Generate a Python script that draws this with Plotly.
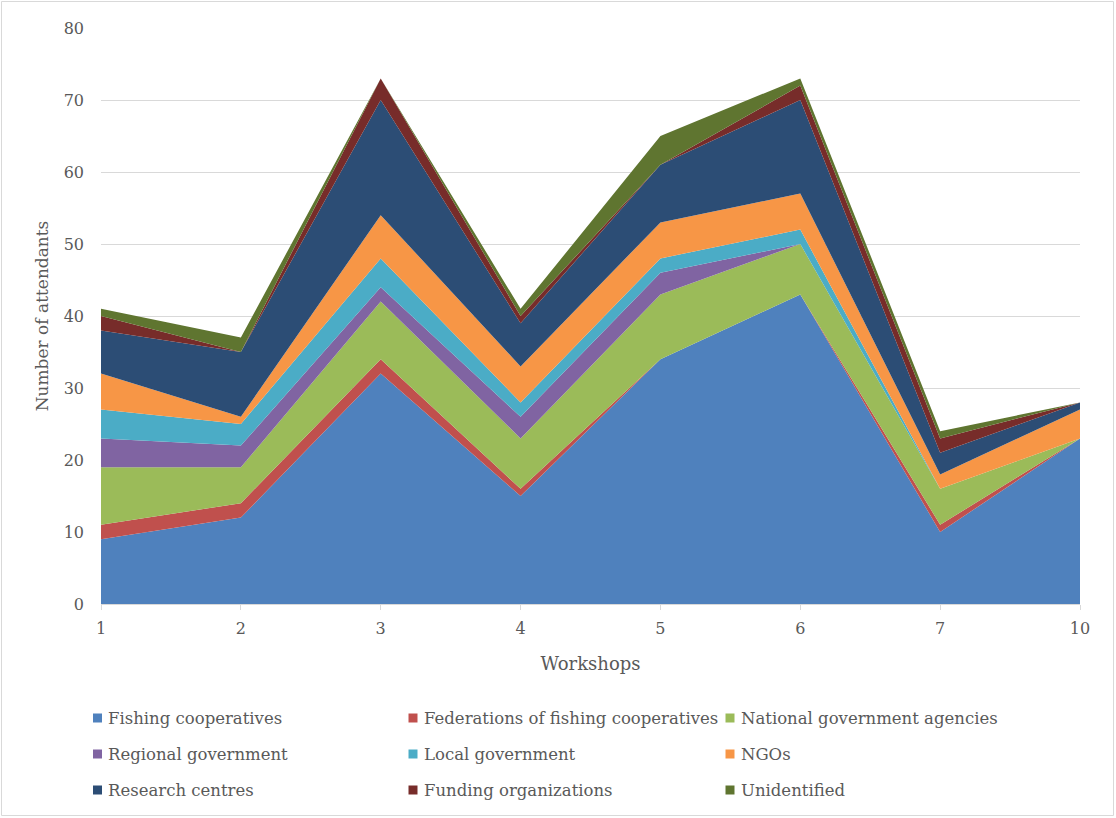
import plotly.graph_objects as go

workshops = ["1", "2", "3", "4", "5", "6", "7", "10"]
series_names = [
    "Fishing cooperatives", "Federations of fishing cooperatives", "National government agencies",
    "Regional government", "Local government", "NGOs",
    "Research centres", "Funding organizations", "Unidentified",
]
fishing_coops = [9, 12, 32, 15, 34, 43, 10, 23]
federations = [2, 2, 2, 1, 0, 0, 1, 0]
national_gov = [8, 5, 8, 7, 9, 7, 5, 0]
regional_gov = [4, 3, 2, 3, 3, 0, 0, 0]
local_gov = [4, 3, 4, 2, 2, 2, 0, 0]
ngos = [5, 1, 6, 5, 5, 5, 2, 4]
research = [6, 9, 16, 6, 8, 13, 3, 1]
funding = [2, 0, 3, 1, 0, 2, 2, 0]
unidentified = [1, 2, 0, 1, 4, 1, 1, 0]

series_values = [fishing_coops, federations, national_gov, regional_gov, local_gov,
                 ngos, research, funding, unidentified]
colors = ["#4F81BD", "#C0504D", "#9BBB59", "#8064A2", "#4BACC6", "#F79646",
          "#2C4D75", "#772C2A", "#5F7530"]

FONT = "DejaVu Serif"
TXT = "#595959"

fig = go.Figure()
for name, vals, col in zip(series_names, series_values, colors):
    fig.add_trace(go.Scatter(
        x=workshops, y=vals, name=name, stackgroup="one", mode="none",
        fillcolor=col, showlegend=False, hoverinfo="x+y+name",
    ))

W, H = 1116, 818
L, R, T, B = 101, 36, 28, 214
pw, ph = W - L - R, H - T - B


def px_x(p):
    return (p - L) / pw


def px_y(p):
    return (T + ph - p) / ph


# manual legend (3 columns x 3 rows), real text
col_marker = [97.5, 413, 730]
col_text = [107, 423, 740]
row_y = [718, 754, 790]
shapes = []
annotations = []
for i, (name, col) in enumerate(zip(series_names, colors)):
    r, c = divmod(i, 3)
    cx, cy = col_marker[c], row_y[r]
    shapes.append(dict(
        type="rect", xref="paper", yref="paper",
        x0=px_x(cx - 4.5), x1=px_x(cx + 4.5), y0=px_y(cy + 4.5), y1=px_y(cy - 4.5),
        line=dict(width=0), fillcolor=col,
    ))
    annotations.append(dict(
        text=name, xref="paper", yref="paper", x=px_x(col_text[c]), y=px_y(cy),
        xanchor="left", yanchor="middle", showarrow=False,
        font=dict(family=FONT, size=16.5, color=TXT), borderpad=0,
    ))

# outer chart border
shapes.append(dict(
    type="rect", xref="paper", yref="paper",
    x0=px_x(1.5), x1=px_x(1113.5), y0=px_y(815.5), y1=px_y(1.5),
    line=dict(color="#D9D9D9", width=1), fillcolor="rgba(0,0,0,0)", layer="above",
))

fig.update_layout(
    width=W, height=H,
    margin=dict(l=L, r=R, t=T, b=B),
    paper_bgcolor="white", plot_bgcolor="white",
    font=dict(family=FONT, size=15, color=TXT),
    showlegend=False,
    xaxis=dict(
        type="category", range=[0, 7], showgrid=False,
        showline=True, linecolor="#D9D9D9", linewidth=1,
        ticks="outside", ticklen=5, tickcolor="#D9D9D9",
        tickfont=dict(size=16, color=TXT), ticklabelstandoff=5,
        title=dict(text="Workshops", font=dict(size=18, color=TXT), standoff=20),
    ),
    yaxis=dict(
        range=[0, 80], dtick=10, showgrid=True, gridcolor="#D9D9D9", gridwidth=1,
        zeroline=False, showline=False, ticks="",
        tickfont=dict(size=16, color=TXT), ticklabelstandoff=16,
        title=dict(text="Number of attendants", font=dict(size=17, color=TXT), standoff=10),
    ),
    shapes=shapes,
    annotations=annotations,
)

fig.write_html("out.html")
